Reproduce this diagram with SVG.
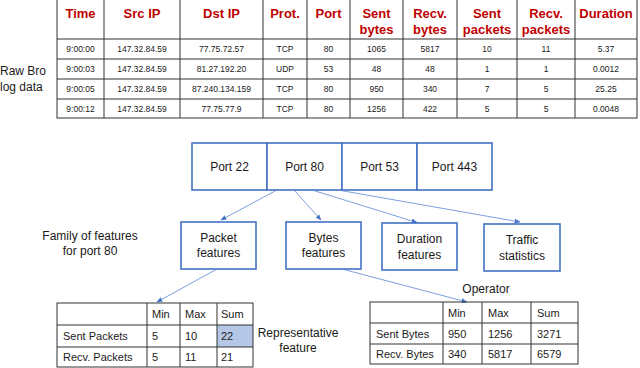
<svg xmlns="http://www.w3.org/2000/svg" width="640" height="368" viewBox="0 0 640 368">
<defs>
<style>
text{font-family:"Liberation Sans",Arial,sans-serif;fill:#1a1a1a}
.h{font-size:13px;font-weight:bold;fill:#c00000;text-anchor:middle}
.d{font-size:8.5px;text-anchor:middle}
.lb{font-size:12px}
.c{text-anchor:middle}
.t{font-size:11px}
.grid{stroke:#333;stroke-width:1;fill:none}
.box{fill:#fff;stroke:#4472c4;stroke-width:1.6}
.con{stroke:#5b86d6;stroke-width:0.8;fill:none;marker-end:url(#ah)}
</style>
<marker id="ah" viewBox="0 0 10 10" refX="9" refY="5" markerWidth="6" markerHeight="6" orient="auto" markerUnits="userSpaceOnUse">
<path d="M0,1 L10,5 L0,9 z" fill="#4472c4"/>
</marker>
</defs>

<g id="raw-log-table">
<rect x="57" y="-1" width="580" height="119" class="grid" stroke-width="1.3"/>
<path class="grid" d="M104,0V118M180,0V118M263,0V118M307,0V118M350,0V118M403,0V118M457,0V118M517,0V118M575,0V118M57,39H637M57,59H637M57,79H637M57,99H637"/>
<text class="h" x="80.5" y="18">Time</text>
<text class="h" x="142" y="18">Src IP</text>
<text class="h" x="221.5" y="18">Dst IP</text>
<text class="h" x="285" y="18">Prot.</text>
<text class="h" x="328.5" y="18">Port</text>
<text class="h" x="376.5" y="17.5">Sent</text><text class="h" x="376.5" y="34">bytes</text>
<text class="h" x="430" y="17.5">Recv.</text><text class="h" x="430" y="34">bytes</text>
<text class="h" x="487" y="17.5">Sent</text><text class="h" x="487" y="34">packets</text>
<text class="h" x="546" y="17.5">Recv.</text><text class="h" x="546" y="34">packets</text>
<text class="h" x="606" y="17.5">Duration</text>
<g class="d">
<text class="d" x="80.5" y="52">9:00:00</text><text class="d" x="142" y="52">147.32.84.59</text><text class="d" x="221.5" y="52">77.75.72.57</text><text class="d" x="285" y="52">TCP</text><text class="d" x="328.5" y="52">80</text><text class="d" x="376.5" y="52">1065</text><text class="d" x="430" y="52">5817</text><text class="d" x="487" y="52">10</text><text class="d" x="546" y="52">11</text><text class="d" x="606" y="52">5.37</text>
<text class="d" x="80.5" y="72">9:00:03</text><text class="d" x="142" y="72">147.32.84.59</text><text class="d" x="221.5" y="72">81.27.192.20</text><text class="d" x="285" y="72">UDP</text><text class="d" x="328.5" y="72">53</text><text class="d" x="376.5" y="72">48</text><text class="d" x="430" y="72">48</text><text class="d" x="487" y="72">1</text><text class="d" x="546" y="72">1</text><text class="d" x="606" y="72">0.0012</text>
<text class="d" x="80.5" y="92">9:00:05</text><text class="d" x="142" y="92">147.32.84.59</text><text class="d" x="221.5" y="92">87.240.134.159</text><text class="d" x="285" y="92">TCP</text><text class="d" x="328.5" y="92">80</text><text class="d" x="376.5" y="92">950</text><text class="d" x="430" y="92">340</text><text class="d" x="487" y="92">7</text><text class="d" x="546" y="92">5</text><text class="d" x="606" y="92">25.25</text>
<text class="d" x="80.5" y="111.5">9:00:12</text><text class="d" x="142" y="111.5">147.32.84.59</text><text class="d" x="221.5" y="111.5">77.75.77.9</text><text class="d" x="285" y="111.5">TCP</text><text class="d" x="328.5" y="111.5">80</text><text class="d" x="376.5" y="111.5">1256</text><text class="d" x="430" y="111.5">422</text><text class="d" x="487" y="111.5">5</text><text class="d" x="546" y="111.5">5</text><text class="d" x="606" y="111.5">0.0048</text>
</g>
</g>

<g id="raw-label">
<text class="lb" x="0" y="75">Raw Bro</text>
<text class="lb" x="0" y="91">log data</text>
</g>

<g id="port-22"><rect class="box" x="192" y="143" width="75" height="47"/><text class="lb c" x="229.5" y="171">Port 22</text></g>
<g id="port-80"><rect class="box" x="267" y="143" width="75" height="47"/><text class="lb c" x="304.5" y="171">Port 80</text></g>
<g id="port-53"><rect class="box" x="342" y="143" width="75" height="47"/><text class="lb c" x="379.5" y="171">Port 53</text></g>
<g id="port-443"><rect class="box" x="417" y="143" width="75" height="47"/><text class="lb c" x="454.5" y="171">Port 443</text></g>

<g id="family-label">
<text class="lb c" x="90" y="240" font-size="11.5">Family of features</text>
<text class="lb c" x="90" y="255" font-size="11.5">for port 80</text>
</g>

<g id="packet-features"><rect class="box" x="181" y="222" width="75" height="47"/><text class="lb c" x="218.5" y="242">Packet</text><text class="lb c" x="218.5" y="257">features</text></g>
<g id="bytes-features"><rect class="box" x="286" y="222" width="75" height="47"/><text class="lb c" x="323.5" y="242">Bytes</text><text class="lb c" x="323.5" y="257">features</text></g>
<g id="duration-features"><rect class="box" x="382" y="223" width="75" height="47"/><text class="lb c" x="419.5" y="243">Duration</text><text class="lb c" x="419.5" y="259">features</text></g>
<g id="traffic-statistics"><rect class="box" x="484" y="224" width="76" height="47"/><text class="lb c" x="522" y="244">Traffic</text><text class="lb c" x="522" y="260">statistics</text></g>

<g id="connectors">
<line class="con" x1="277" y1="190" x2="221" y2="220"/>
<line class="con" x1="294" y1="190" x2="321" y2="220"/>
<line class="con" x1="312" y1="190" x2="417" y2="222.5"/>
<line class="con" x1="338" y1="190" x2="520" y2="222"/>
<line class="con" x1="217" y1="269" x2="157" y2="302"/>
<line class="con" x1="342" y1="269" x2="467" y2="302"/>
</g>

<g id="packet-table">
<rect x="217" y="325" width="36" height="22" fill="#b4c7e7"/>
<rect class="grid" x="57" y="303" width="196" height="64"/>
<path class="grid" d="M147,303V367M180,303V367M217,303V367M57,325H253M57,347H253"/>
<text class="t" x="152" y="318">Min</text><text class="t" x="185" y="318">Max</text><text class="t" x="221" y="318">Sum</text>
<text class="t" x="63" y="340">Sent Packets</text><text class="t" x="152" y="340">5</text><text class="t" x="185" y="340">10</text><text class="t" x="221" y="340">22</text>
<text class="t" x="63" y="361">Recv. Packets</text><text class="t" x="152" y="361">5</text><text class="t" x="185" y="361">11</text><text class="t" x="221" y="361">21</text>
</g>

<g id="representative-label">
<text class="lb c" x="298" y="337" font-size="11.5">Representative</text>
<text class="lb c" x="298" y="352" font-size="11.5">feature</text>
</g>

<g id="operator-label"><text class="lb c" x="486" y="293" font-size="11.5">Operator</text></g>

<g id="bytes-table">
<rect class="grid" x="370" y="302" width="208" height="62"/>
<path class="grid" d="M443,302V364M482,302V364M531,302V364M370,323H578M370,344H578"/>
<text class="t" x="448" y="317">Min</text><text class="t" x="488" y="317">Max</text><text class="t" x="537" y="317">Sum</text>
<text class="t" x="376" y="337.5">Sent Bytes</text><text class="t" x="448" y="337.5">950</text><text class="t" x="488" y="337.5">1256</text><text class="t" x="537" y="337.5">3271</text>
<text class="t" x="376" y="358">Recv. Bytes</text><text class="t" x="448" y="358">340</text><text class="t" x="488" y="358">5817</text><text class="t" x="537" y="358">6579</text>
</g>
</svg>
